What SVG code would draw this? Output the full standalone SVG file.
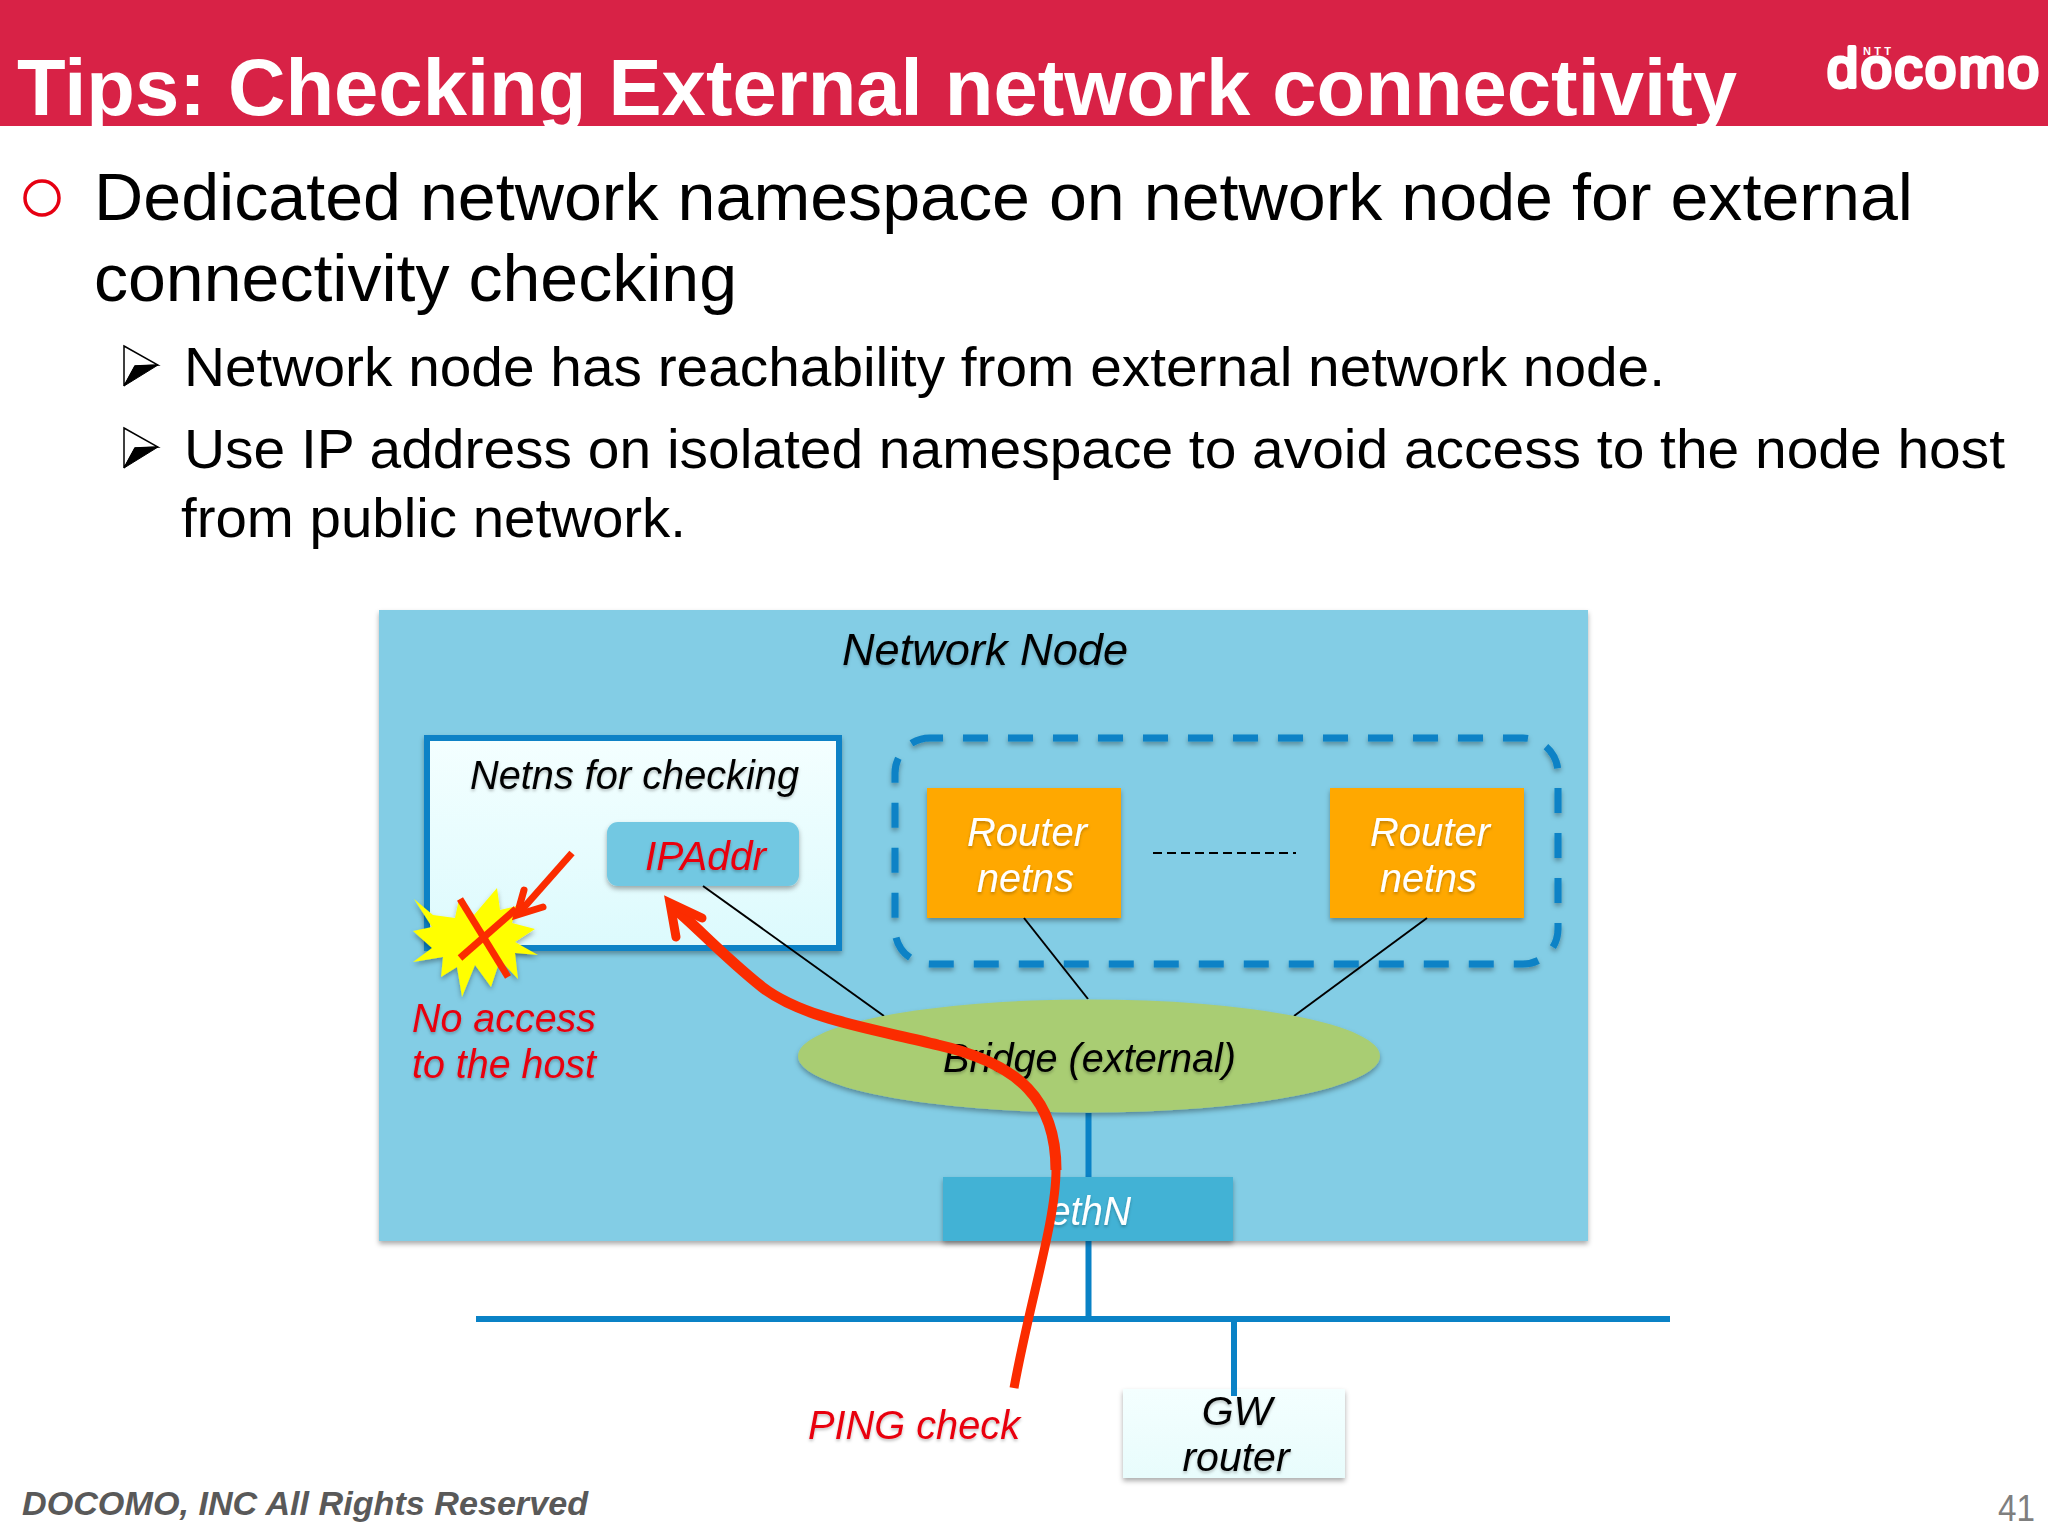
<svg xmlns="http://www.w3.org/2000/svg" width="2048" height="1536" viewBox="0 0 2048 1536">
<defs>
<linearGradient id="netnsFill" x1="0" y1="0" x2="0" y2="1"><stop offset="0" stop-color="#f4ffff"/><stop offset="1" stop-color="#dcfafd"/></linearGradient>
<linearGradient id="gwFill" x1="0" y1="0" x2="0" y2="1"><stop offset="0" stop-color="#f4ffff"/><stop offset="1" stop-color="#e8fcfc"/></linearGradient>
<filter id="sh" x="-10%" y="-10%" width="120%" height="125%"><feDropShadow dx="0" dy="3" stdDeviation="2.5" flood-color="#000" flood-opacity="0.33"/></filter>
<filter id="ts" x="-5%" y="-10%" width="110%" height="130%"><feDropShadow dx="0" dy="2" stdDeviation="1.5" flood-color="#000" flood-opacity="0.25"/></filter>
<polygon id="chev" points="124,346 158,365 135,366 124,386" fill="#fff" stroke="#000" stroke-width="1.5" stroke-linejoin="miter"/>
<polygon id="chevb" points="135,366 158,365 124,386" fill="#000" stroke="#000" stroke-width="1"/>
</defs>
<style>
text{font-family:"Liberation Sans",Arial,sans-serif}
.title{font-weight:bold;font-size:80px;fill:#fff}
.b1{font-size:66px;fill:#000}
.b2{font-size:56px;fill:#000}
.i{font-style:italic;font-size:41px;filter:url(#ts)}
.k{fill:#000}.r{fill:#e8000f}.w{fill:#fff}
.net{stroke:#0a82c6;fill:none}
.thin{stroke:#000;stroke-width:2;fill:none}
.red{stroke:#fb2c00;fill:none;stroke-linecap:butt;stroke-linejoin:miter}
.head{stroke-linecap:round}
</style>
<rect width="2048" height="1536" fill="#fff"/>
<g id="header">
<rect width="2048" height="126" fill="#d82246"/>
<text class="title" x="17" y="115" textLength="1720" lengthAdjust="spacingAndGlyphs">Tips: Checking External network connectivity</text>
<text x="1827" y="87" font-size="56" fill="#fff" stroke="#fff" stroke-width="4" stroke-linejoin="round" textLength="212" lengthAdjust="spacing">docomo</text>
<text x="1863" y="55" font-size="11" font-weight="bold" fill="#fff" textLength="28" lengthAdjust="spacing">NTT</text>
</g>
<g id="bullets">
<circle cx="42" cy="198" r="17" fill="none" stroke="#e60012" stroke-width="3.5"/>
<text class="b1" x="94" y="220" textLength="1819" lengthAdjust="spacingAndGlyphs">Dedicated network namespace on network node for external</text>
<text class="b1" x="94" y="301" textLength="643" lengthAdjust="spacingAndGlyphs">connectivity checking</text>
<use href="#chev"/><use href="#chevb"/>
<text class="b2" x="184" y="386" textLength="1481" lengthAdjust="spacingAndGlyphs">Network node has reachability from external network node.</text>
<use href="#chev" y="82"/><use href="#chevb" y="82"/>
<text class="b2" x="184" y="468" textLength="1821" lengthAdjust="spacingAndGlyphs">Use IP address on isolated namespace to avoid access to the node host</text>
<text class="b2" x="181" y="537" textLength="505" lengthAdjust="spacingAndGlyphs">from public network.</text>
</g>
<g id="network-node">
<rect x="379" y="610" width="1209" height="631" fill="#83cde5" filter="url(#sh)"/>
<text class="i k" x="842" y="665" style="font-size:45px" textLength="286" lengthAdjust="spacingAndGlyphs">Network Node</text>
</g>
<g id="netns-checking">
<rect x="427" y="738" width="412" height="210" fill="url(#netnsFill)" stroke="#0a82c6" stroke-width="6" filter="url(#sh)"/>
<text class="i k" x="470" y="789" textLength="329" lengthAdjust="spacingAndGlyphs">Netns for checking</text>
</g>
<g id="ipaddr">
<rect x="607" y="822" width="192" height="64" rx="11" fill="#72c8e2" filter="url(#sh)"/>
<text class="i r" x="645" y="870" textLength="121" lengthAdjust="spacingAndGlyphs">IPAddr</text>
</g>
<g id="router-group">
<rect x="895" y="738" width="663" height="226" rx="35" class="net" stroke-width="7" stroke-dasharray="25 20" stroke-dashoffset="12" filter="url(#sh)"/>
</g>
<g id="router1">
<rect x="927" y="788" width="194" height="130" fill="#ffa800" filter="url(#sh)"/>
<text class="i w" x="967" y="846" textLength="120" lengthAdjust="spacingAndGlyphs">Router</text>
<text class="i w" x="977" y="892" textLength="97" lengthAdjust="spacingAndGlyphs">netns</text>
</g>
<g id="router2">
<rect x="1330" y="788" width="194" height="130" fill="#ffa800" filter="url(#sh)"/>
<text class="i w" x="1370" y="846" textLength="120" lengthAdjust="spacingAndGlyphs">Router</text>
<text class="i w" x="1380" y="892" textLength="97" lengthAdjust="spacingAndGlyphs">netns</text>
</g>
<g id="connectors">
<line class="thin" x1="703" y1="886" x2="884" y2="1016"/>
<line class="thin" x1="1024" y1="918" x2="1088" y2="999"/>
<line class="thin" x1="1427" y1="918" x2="1294" y2="1016"/>
<line class="thin" x1="1153" y1="853" x2="1296" y2="853" stroke-dasharray="9 5"/>
<line class="net" x1="1088.5" y1="1113" x2="1088.5" y2="1319" stroke-width="6"/>
<line class="net" x1="476" y1="1319" x2="1670" y2="1319" stroke-width="6"/>
</g>
<g id="bridge">
<ellipse cx="1089" cy="1056" rx="291" ry="56.5" fill="#a9cd73" filter="url(#sh)"/>
<text class="i k" x="943" y="1072" textLength="293" lengthAdjust="spacingAndGlyphs">Bridge (external)</text>
</g>
<g id="ethn">
<rect x="943" y="1177" width="290" height="64" fill="#42b2d5" filter="url(#sh)"/>
<text class="i w" x="1049" y="1225" textLength="82" lengthAdjust="spacingAndGlyphs">ethN</text>
</g>
<g id="gw-router">
<rect x="1123" y="1389" width="222" height="89" fill="url(#gwFill)" filter="url(#sh)"/>
<line class="net" x1="1234" y1="1319" x2="1234" y2="1396" stroke-width="6"/>
<text class="i k" x="1237" y="1425" text-anchor="middle">GW</text>
<text class="i k" x="1236" y="1471" text-anchor="middle">router</text>
</g>
<g id="no-access">
<polygon points="414,899 433,915 455,918 459,899 474,915 497,888 500,910 517,906 512,923 535,929 515,942 538,955 515,953 518,979 500,960 491,987 475,965 462,997 457,967 441,977 443,957 413,962 432,948 413,931 432,927" fill="#ffff00" filter="url(#sh)"/>
<line class="red" x1="460" y1="899" x2="508" y2="977" stroke-width="7"/>
<line class="red" x1="460" y1="958" x2="516" y2="909" stroke-width="7"/>
<text class="i r" x="412" y="1032" textLength="184" lengthAdjust="spacingAndGlyphs">No access</text>
<text class="i r" x="412" y="1078" textLength="184" lengthAdjust="spacingAndGlyphs">to the host</text>
</g>
<g id="arrows">
<path class="red" d="M572,853 L519,913" stroke-width="7"/>
<path class="red head" d="M524,890 L517,915 L543,907" stroke-width="7"/>
<path class="red" d="M1014,1388 C1030,1300 1056,1220 1056,1170" stroke-width="9"/>
<path class="red" d="M1056,1170 C1056,1100 1020,1064 938,1045 C880,1030 805,1020 762,987 C722,955 695,925 674,908" stroke-width="11"/>
<path class="red head" d="M676,937 L670,903 L702,918" stroke-width="9"/>
</g>
<g id="ping-label">
<text class="i r" x="808" y="1439" textLength="212" lengthAdjust="spacingAndGlyphs">PING check</text>
</g>
<g id="footer">
<text x="22" y="1515" font-size="34" font-weight="bold" font-style="italic" fill="#595959" textLength="566" lengthAdjust="spacingAndGlyphs">DOCOMO, INC All Rights Reserved</text>
<text x="1998" y="1521" font-size="36" fill="#7f7f7f" textLength="37" lengthAdjust="spacingAndGlyphs">41</text>
</g>
</svg>
